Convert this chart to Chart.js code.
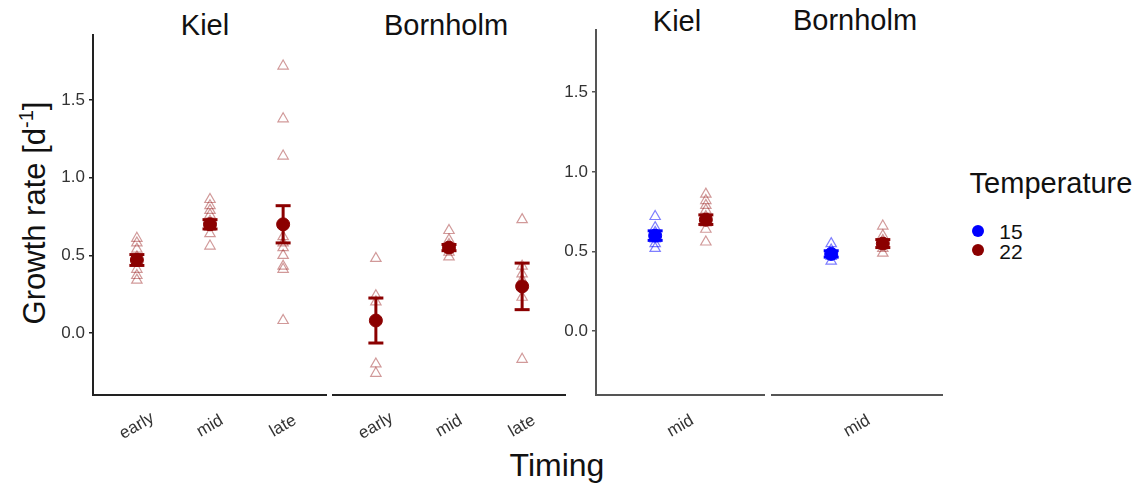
<!DOCTYPE html>
<html>
<head>
<meta charset="utf-8">
<script src="https://cdn.jsdelivr.net/npm/chart.js@4/dist/chart.umd.min.js"></script>
<style>
  body { margin: 0; background: #fff; }
  #wrap { position: relative; width: 1141px; height: 485px; overflow: hidden;
          font-family: "Liberation Sans", Arial, sans-serif; color: #111; }
  canvas { position: absolute; top: 0; }
  .txt { position: absolute; transform: translate(-50%, -50%); white-space: nowrap; line-height: 1; }
  .dot { position: absolute; width: 12px; height: 12px; border-radius: 50%; transform: translate(-50%, -50%); }
</style>
</head>
<body>
<div id="wrap">
  <div class="txt" style="left:205px; top:25px; font-size:29px;">Kiel</div>
  <div class="txt" style="left:446px; top:25px; font-size:29px;">Bornholm</div>
  <div class="txt" style="left:677px; top:21px; font-size:29px;">Kiel</div>
  <div class="txt" style="left:855px; top:20px; font-size:29px;">Bornholm</div>
  <div class="txt" style="left:33px; top:213px; font-size:31px; transform: translate(-50%, -50%) rotate(-90deg);">Growth rate [d<sup style="font-size:20px;">-1</sup>]</div>
  <div class="txt" style="left:557px; top:465px; font-size:32px;">Timing</div>
  <div class="txt" style="left:1051px; top:183px; font-size:29px;">Temperature</div>
  <div class="dot" style="left:978px; top:231px; background:#0000ff;"></div>
  <div class="txt" style="left:1011px; top:231px; font-size:21px;">15</div>
  <div class="dot" style="left:978px; top:250px; background:#8b0000;"></div>
  <div class="txt" style="left:1011px; top:251px; font-size:21px;">22</div>
</div>
<script>
const timingLevels = ['early', 'mid', 'late'];
const yTickValues = [0, 0.5, 1.0, 1.5];

// individual growth rates at 22 °C
const kielEarly22 = [0.61, 0.58, 0.54, 0.49, 0.45, 0.41, 0.37, 0.34];
const kielMid22 = [0.86, 0.82, 0.79, 0.76, 0.72, 0.68, 0.64, 0.56];
const kielLate22 = [1.72, 1.38, 1.14, 0.62, 0.58, 0.55, 0.50, 0.43, 0.41, 0.08];
const bornEarly22 = [0.48, 0.24, 0.20, -0.20, -0.26];
const bornMid22 = [0.66, 0.60, 0.57, 0.52, 0.49];
const bornLate22 = [0.73, 0.43, 0.38, 0.34, 0.23, -0.17];
// individual growth rates at 15 °C (mid only)
const kielMid15 = [0.72, 0.65, 0.62, 0.58, 0.55, 0.52];
const bornMid15 = [0.55, 0.51, 0.47, 0.44];

// means and standard errors, 22 °C by timing
const kielMean22 = [0.47, 0.70, 0.70];
const kielSE22 = [0.035, 0.03, 0.12];
const bornMean22 = [0.08, 0.55, 0.30];
const bornSE22 = [0.145, 0.02, 0.15];
// mid timing, [15, 22]
const kielMidMean = [0.60, 0.70];
const kielMidSE = [0.03, 0.03];
const bornMidMean = [0.485, 0.55];
const bornMidSE = [0.02, 0.025];

const RED = '#8b0000', BLUE = '#0000ff';
const RED_A = 'rgba(139,0,0,0.4)', BLUE_A = 'rgba(0,0,255,0.5)';
const FONT = '"Liberation Sans", Arial, sans-serif';

function tickLabels(labels, positions) {
  return {
    id: 'rotatedTicks',
    afterDraw(chart) {
      const ctx = chart.ctx, xs = chart.scales.x;
      ctx.save();
      ctx.font = '17px ' + FONT;
      ctx.fillStyle = '#333';
      ctx.textAlign = 'center';
      ctx.textBaseline = 'middle';
      labels.forEach((lab, i) => {
        ctx.save();
        ctx.translate(xs.getPixelForValue(positions[i]), 426);
        ctx.rotate(-Math.PI / 6);
        ctx.fillText(lab, 0, 0);
        ctx.restore();
      });
      ctx.restore();
    }
  };
}

// groups: {x, raw, mean, se, color, faint}
function makePanel(left, width, groups, opt) {
  const canvas = document.createElement('canvas');
  canvas.width = width;
  canvas.height = 485;
  canvas.style.left = left + 'px';
  document.getElementById('wrap').appendChild(canvas);

  const datasets = [];
  groups.forEach(g => {
    datasets.push({
      type: 'scatter',
      data: g.raw.map(v => ({ x: g.x, y: v })),
      pointStyle: 'triangle',
      pointRadius: 6,
      backgroundColor: 'rgba(0,0,0,0)',
      borderColor: g.faint,
      borderWidth: 1.2,
      order: 2
    });
    datasets.push({
      type: 'line',
      data: [{ x: g.x, y: g.mean - g.se }, { x: g.x, y: g.mean + g.se }],
      showLine: true,
      borderColor: g.color,
      borderWidth: 3,
      pointStyle: 'line',
      pointRadius: 7.5,
      pointBorderWidth: 3,
      pointBorderColor: g.color,
      order: 1
    });
    datasets.push({
      type: 'scatter',
      data: [{ x: g.x, y: g.mean }],
      pointStyle: 'circle',
      pointRadius: 6.5,
      backgroundColor: g.color,
      borderColor: g.color,
      order: 0
    });
  });

  new Chart(canvas.getContext('2d'), {
    type: 'scatter',
    data: { datasets },
    options: {
      responsive: false,
      animation: false,
      devicePixelRatio: 1,
      layout: { padding: { top: opt.top, left: 0, right: 0, bottom: 0 }, autoPadding: false },
      plugins: { legend: { display: false }, tooltip: { enabled: false } },
      scales: {
        x: {
          type: 'linear',
          min: opt.xmin, max: opt.xmax,
          ticks: { display: false },
          grid: { display: false },
          border: { display: true, color: opt.axisColor, width: 2 },
          afterFit: s => { s.height = 485 - 395; }
        },
        y: {
          display: opt.showY,
          min: opt.ymin, max: opt.ymax,
          afterBuildTicks: s => { s.ticks = yTickValues.map(v => ({ value: v })); },
          ticks: {
            callback: v => v.toFixed(1),
            font: { size: 17, family: FONT },
            color: '#333',
            padding: 4
          },
          grid: { display: true, drawOnChartArea: false, drawTicks: true, tickLength: 4,
                  color: opt.axisColor, lineWidth: 1.5 },
          border: { display: true, color: opt.axisColor, width: 2 },
          afterFit: s => { s.width = opt.yWidth; }
        }
      }
    },
    plugins: [tickLabels(opt.labels, opt.labelPos)]
  });
}

const leftOpt = { top: 35, ymin: -0.40, ymax: 1.92, xmin: -0.6, xmax: 2.6, axisColor: '#222',
                  labels: timingLevels, labelPos: [0, 1, 2] };

makePanel(0, 327, [
  { x: 0, raw: kielEarly22, mean: kielMean22[0], se: kielSE22[0], color: RED, faint: RED_A },
  { x: 1, raw: kielMid22, mean: kielMean22[1], se: kielSE22[1], color: RED, faint: RED_A },
  { x: 2, raw: kielLate22, mean: kielMean22[2], se: kielSE22[2], color: RED, faint: RED_A }
], Object.assign({}, leftOpt, { showY: true, yWidth: 93 }));

makePanel(332, 234, [
  { x: 0, raw: bornEarly22, mean: bornMean22[0], se: bornSE22[0], color: RED, faint: RED_A },
  { x: 1, raw: bornMid22, mean: bornMean22[1], se: bornSE22[1], color: RED, faint: RED_A },
  { x: 2, raw: bornLate22, mean: bornMean22[2], se: bornSE22[2], color: RED, faint: RED_A }
], Object.assign({}, leftOpt, { showY: false, yWidth: 0 }));

const rightOpt = { top: 30, ymin: -0.40, ymax: 1.89, xmin: -0.6, xmax: 0.6, axisColor: '#555',
                   labels: ['mid'], labelPos: [0] };
const dodge = 0.18;

makePanel(500, 265, [
  { x: -dodge, raw: kielMid15, mean: kielMidMean[0], se: kielMidSE[0], color: BLUE, faint: BLUE_A },
  { x: dodge, raw: kielMid22, mean: kielMidMean[1], se: kielMidSE[1], color: RED, faint: RED_A }
], Object.assign({}, rightOpt, { showY: true, yWidth: 96 }));

makePanel(771, 172, [
  { x: -dodge, raw: bornMid15, mean: bornMidMean[0], se: bornMidSE[0], color: BLUE, faint: BLUE_A },
  { x: dodge, raw: bornMid22, mean: bornMidMean[1], se: bornMidSE[1], color: RED, faint: RED_A }
], Object.assign({}, rightOpt, { showY: false, yWidth: 0 }));
</script>
</body>
</html>
